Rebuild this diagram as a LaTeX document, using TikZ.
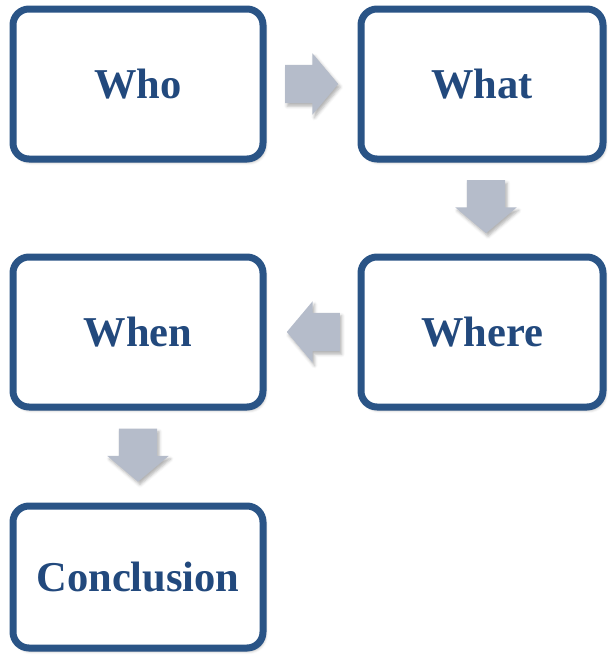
\documentclass[tikz,border=0pt]{standalone}
\usepackage{fontspec}
\setmainfont{Liberation Serif}
\usetikzlibrary{shapes.arrows,shadows.blur,calc}
\definecolor{boxblue}{HTML}{2A5486}
\definecolor{txtblue}{HTML}{22497D}
\definecolor{arrowgray}{HTML}{B5BCCA}
\begin{document}
\begin{tikzpicture}[x=1pt,y=-1pt,
  qbox/.style={draw=boxblue, line width=7pt, rounded corners=16pt, fill=white,
    minimum width=#1, minimum height=150pt, inner sep=0pt,
    font=\fontsize{42.5}{48}\selectfont\bfseries, text=txtblue,
    blur shadow={shadow xshift=2pt, shadow yshift=-3pt, shadow blur radius=3pt, shadow opacity=35}},
  qbox/.default=250pt,
  blockarrow/.style={single arrow, draw=none, fill=arrowgray, anchor=tail,
    minimum height=53pt, inner xsep=0pt, inner ysep=19pt, single arrow head extend=11.5pt,
    single arrow tip angle=100,
    blur shadow={shadow xshift=2pt, shadow yshift=-3pt, shadow blur radius=3pt, shadow opacity=30}}]
\useasboundingbox (0,0) rectangle (609,659);
\node[qbox=250pt] (who) at (138,84) {Who};
\node[qbox=242pt] (what) at (482,84) {What};
\node[qbox=242pt] (where) at (482,332) {Where};
\node[qbox=250pt] (when) at (138,332) {When};
\node[qbox=250pt, minimum height=142pt] (concl) at (138,577) {Conclusion};
\node[blockarrow] (a1) at ($(who.east)!0.5!(what.west)+(-27,0)$) {};
\node[blockarrow, rotate=-90] (a2) at ($(what.south)!0.5!(where.north)+(4,-28)$) {};
\node[blockarrow, rotate=180] (a3) at ($(where.west)!0.5!(when.east)+(28,0)$) {};
\node[blockarrow, rotate=-90] (a4) at ($(when.south)!0.5!(concl.north)+(0,-28)$) {};
\end{tikzpicture}
\end{document}
